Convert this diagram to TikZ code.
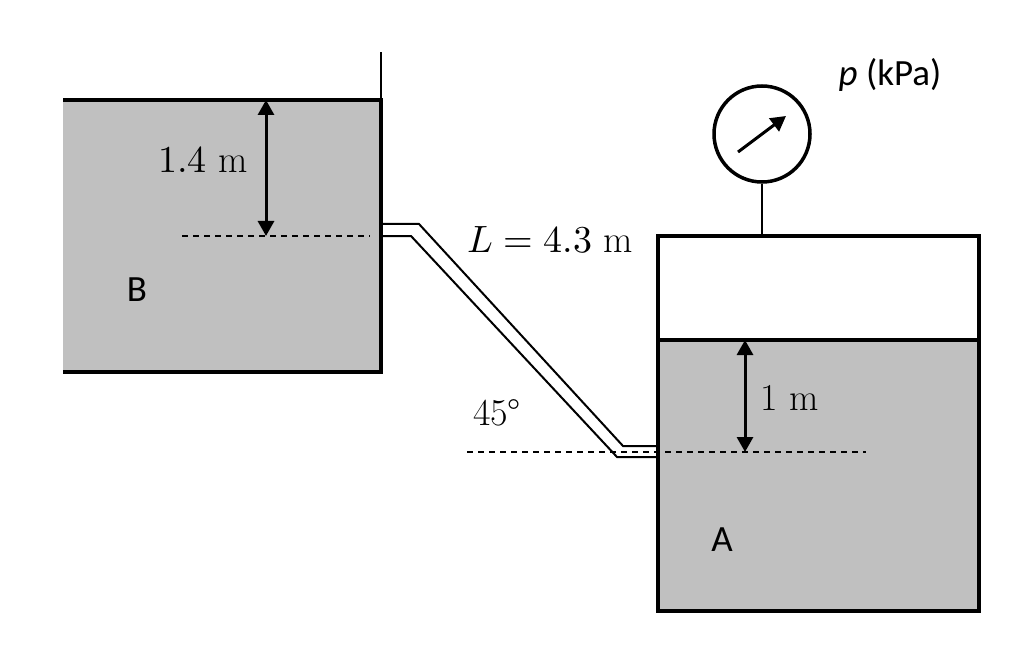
\documentclass[tikz,border=0pt]{standalone}
\usepackage{fontspec}
\usepackage{unicode-math}
\setmathfont{Latin Modern Math}
\newfontfamily\labelfont{Carlito}
\usetikzlibrary{arrows.meta}
\definecolor{liquid}{RGB}{192,192,192}

\begin{document}
\begin{tikzpicture}[
  x=1pt, y=-1pt,
  tank/.style={draw=black, line width=3.5pt},
  level/.style={dash pattern=on 6pt off 5pt, line width=1.5pt},
  dim/.style={{Triangle[width=16pt,length=15pt]}-{Triangle[width=16pt,length=15pt]}, line width=3pt},
  pipe/.style={line width=2pt},
  mathlabel/.style={font=\fontsize{38}{42}\selectfont},
  sanslabel/.style={font=\labelfont\fontsize{37}{41}\selectfont}
]
\useasboundingbox (0,0) rectangle (1024,652);

% Tank B
\fill[liquid] (63,100) rectangle (381,372);
\draw[tank] (63,100) -- (381,100) -- (381,372) -- (63,372);
\draw[line width=1.5pt] (381,100) -- (381,52);
\draw[level] (182,236) -- (370,236);
\coordinate (b1) at (266,100);
\coordinate (b2) at (266,236);
\draw[dim] (b1) -- (b2);
\node[mathlabel] (hb) at (203,160) {$1.4$ m};
\node[sanslabel] (nb) at (137,290) {B};

% Tank A
\fill[liquid] (658,340) rectangle (979,611);
\draw[tank] (658,236) rectangle (979,611);
\draw[tank] (658,340) -- (979,340);
\draw[level] (467,452) -- (866,452);
\coordinate (a1) at (745,340);
\coordinate (a2) at (745,452);
\draw[dim] (a1) -- (a2);
\node[mathlabel] (ha) at (790,398) {1 m};
\node[sanslabel] (na) at (722,540) {A};

% Gauge
\node[draw, line width=3.5pt, circle, minimum size=96pt, inner sep=0pt] (gauge) at (762,134) {};
\coordinate (g1) at (762,236);
\draw[line width=1.5pt] (gauge.south) -- (g1);
\coordinate (n1) at (738,152);
\coordinate (n2) at (786,116);
\draw[-{Triangle[width=16pt,length=15pt]}, line width=3pt] (n1) -- (n2);
\node[sanslabel, anchor=center] (pl) at (890,75) {\textit{p} (kPa)};

% Pipe
\draw[pipe] (381,224) -- (419,224) -- (623,446) -- (658,446);
\draw[pipe] (381,236) -- (411,236) -- (617,457) -- (658,457);
\node[mathlabel] (len) at (550,240) {$L = 4.3$ m};
\node[mathlabel] (ang) at (497,413) {45°};
\end{tikzpicture}
\end{document}
